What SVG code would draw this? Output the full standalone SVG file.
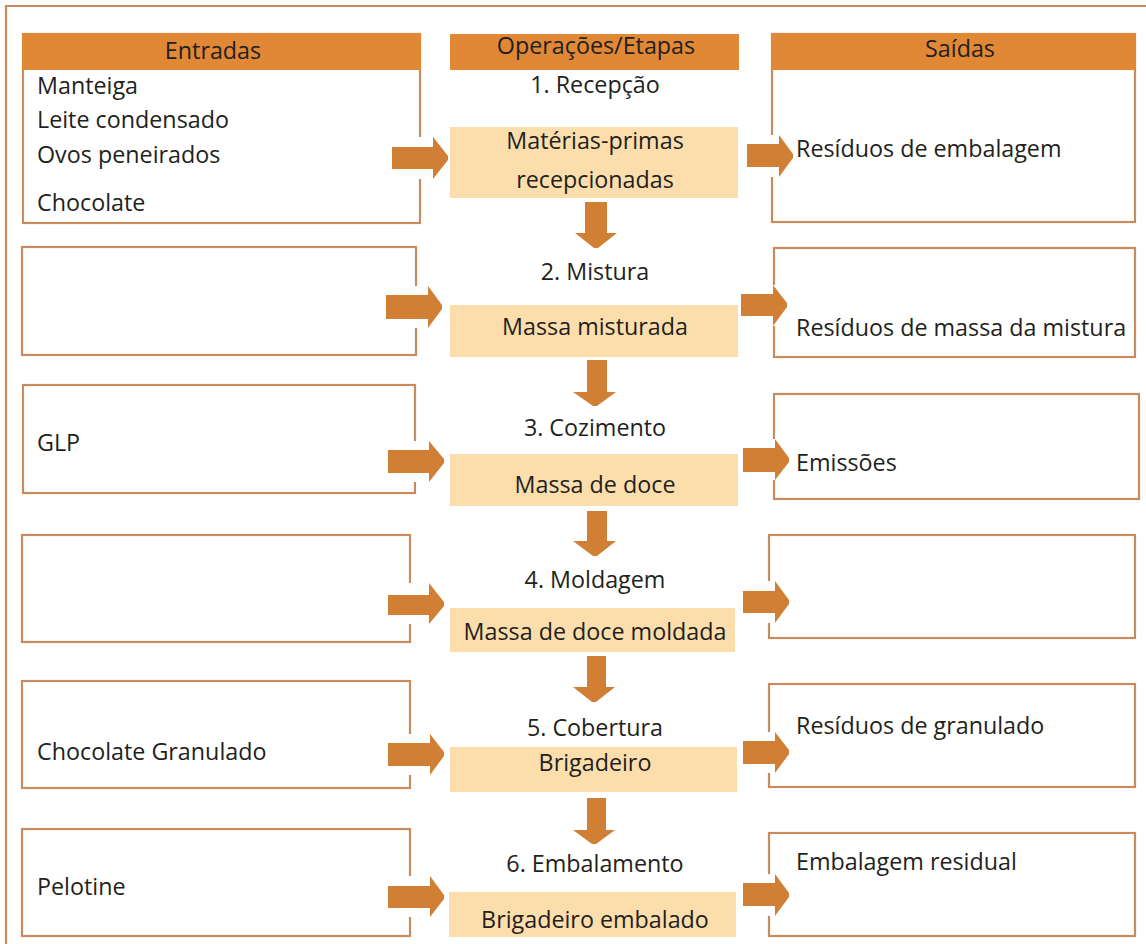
<svg xmlns="http://www.w3.org/2000/svg" width="1146" height="944" viewBox="0 0 1146 944">
<style>
.bx{fill:#fff;stroke:#C98A5E;stroke-width:2.2}
.hd{fill:#E08836}
.op{fill:#FCDEAC}
.ar{fill:#D17F35}
.gap{fill:#fff}
text{font-family:"Open Sans","Liberation Sans",sans-serif;font-size:23.3px;fill:#231F20}
.c{text-anchor:middle}
</style>
<rect width="1146" height="944" fill="#fff"/>
<path d="M6 944 V6 H1146" fill="none" stroke="#C98A5E" stroke-width="2.2"/>

<g id="entradas-1">
<rect class="bx" x="23" y="34" width="397" height="189"/>
<rect class="hd" x="22" y="33" width="399" height="37"/>
<text class="c" x="213" y="59">Entradas</text>
<text x="37" y="94">Manteiga</text>
<text x="37" y="128">Leite condensado</text>
<text x="37" y="163">Ovos peneirados</text>
<text x="37" y="211">Chocolate</text>
</g>
<g id="entradas-2"><rect class="bx" x="22" y="247" width="394" height="108"/></g>
<g id="entradas-3"><rect class="bx" x="23" y="385" width="392" height="108"/><text x="37" y="451">GLP</text></g>
<g id="entradas-4"><rect class="bx" x="22" y="535" width="388" height="107"/></g>
<g id="entradas-5"><rect class="bx" x="22" y="681" width="388" height="107"/><text x="37" y="760">Chocolate Granulado</text></g>
<g id="entradas-6"><rect class="bx" x="22" y="829" width="388" height="107"/><text x="37" y="895">Pelotine</text></g>

<g id="saidas-1">
<rect class="bx" x="772" y="34" width="363" height="188"/>
<rect class="hd" x="771" y="33" width="365" height="37"/>
<text class="c" x="960" y="57">Saídas</text>
<text x="796" y="157">Resíduos de embalagem</text>
</g>
<g id="saidas-2"><rect class="bx" x="774" y="248" width="361" height="109"/><text x="796" y="336">Resíduos de massa da mistura</text></g>
<g id="saidas-3"><rect class="bx" x="774" y="394" width="365" height="105"/><text x="796" y="471">Emissões</text></g>
<g id="saidas-4"><rect class="bx" x="769" y="535" width="366" height="103"/></g>
<g id="saidas-5"><rect class="bx" x="769" y="684" width="366" height="103"/><text x="796" y="734">Resíduos de granulado</text></g>
<g id="saidas-6"><rect class="bx" x="769" y="833" width="366" height="103"/><text x="796" y="870">Embalagem residual</text></g>

<g id="operacoes-header">
<rect class="hd" x="450" y="34" width="289" height="36"/>
<text class="c" x="596" y="54">Operações/Etapas</text>
</g>
<g id="etapa-1">
<text class="c" x="595" y="93">1. Recepção</text>
<rect class="op" x="450" y="127" width="288" height="71"/>
<text class="c" x="595" y="149">Matérias-primas</text>
<text class="c" x="595" y="188">recepcionadas</text>
</g>
<g id="etapa-2">
<text class="c" x="595" y="280">2. Mistura</text>
<rect class="op" x="450" y="305" width="288" height="52"/>
<text class="c" x="595" y="335">Massa misturada</text>
</g>
<g id="etapa-3">
<text class="c" x="595" y="436">3. Cozimento</text>
<rect class="op" x="450" y="454" width="288" height="52"/>
<text class="c" x="595" y="493">Massa de doce</text>
</g>
<g id="etapa-4">
<text class="c" x="595" y="588">4. Moldagem</text>
<rect class="op" x="450" y="608" width="285" height="44"/>
<text class="c" x="595" y="640">Massa de doce moldada</text>
</g>
<g id="etapa-5">
<text class="c" x="595" y="736">5. Cobertura</text>
<rect class="op" x="450" y="747" width="287" height="45"/>
<text class="c" x="595" y="771">Brigadeiro</text>
</g>
<g id="etapa-6">
<text class="c" x="595" y="872">6. Embalamento</text>
<rect class="op" x="449" y="892" width="287" height="45"/>
<text class="c" x="595" y="928">Brigadeiro embalado</text>
</g>

<g id="connectors">
<rect class="gap" x="414" y="137" width="12" height="42"/>
<rect class="gap" x="410" y="286" width="12" height="42"/>
<rect class="gap" x="409" y="441" width="12" height="41"/>
<rect class="gap" x="404" y="583" width="12" height="41"/>
<rect class="gap" x="404" y="734" width="12" height="41"/>
<rect class="gap" x="404" y="876" width="12" height="41"/>
<rect class="gap" x="766" y="135" width="12" height="42"/>
<rect class="gap" x="768" y="285" width="12" height="41"/>
<rect class="gap" x="768" y="439" width="12" height="41"/>
<rect class="gap" x="763" y="581" width="12" height="42"/>
<rect class="gap" x="763" y="732" width="12" height="41"/>
<rect class="gap" x="763" y="874" width="12" height="42"/>
<polygon class="ar" points="392,147 433,147 433,137 448,156 448,160 433,179 433,169 392,169"/>
<polygon class="ar" points="386,295 428,295 428,286 442,305 442,309 428,328 428,319 386,319"/>
<polygon class="ar" points="388,450 429,450 429,441 444,459 444,463 429,482 429,473 388,473"/>
<polygon class="ar" points="388,595 429,595 429,583 444,602 444,606 429,624 429,615 388,615"/>
<polygon class="ar" points="388,743 430,743 430,734 444,752 444,756 430,775 430,766 388,766"/>
<polygon class="ar" points="388,886 430,886 430,876 444,895 444,899 430,917 430,908 388,908"/>
<polygon class="ar" points="747,144 779,144 779,135 793,154 793,158 779,177 779,167 747,167"/>
<polygon class="ar" points="741,294 773,294 773,285 787,303 787,307 773,326 773,316 741,316"/>
<polygon class="ar" points="743,448 775,448 775,439 789,458 789,462 775,480 775,472 743,472"/>
<polygon class="ar" points="743,591 775,591 775,581 789,600 789,604 775,623 775,613 743,613"/>
<polygon class="ar" points="743,741 775,741 775,732 789,750 789,754 775,773 775,764 743,764"/>
<polygon class="ar" points="743,883 775,883 775,874 789,893 789,897 775,916 775,906 743,906"/>
<polygon class="ar" points="585,202 607,202 607,233 617,233 598,248 594,248 575,233 585,233"/>
<polygon class="ar" points="587,360 607,360 607,392 616,392 597,406 593,406 573,392 587,392"/>
<polygon class="ar" points="587,511 607,511 607,541 616,541 597,556 593,556 573,541 587,541"/>
<polygon class="ar" points="587,656 606,656 606,687 615,687 596,702 592,702 573,687 587,687"/>
<polygon class="ar" points="587,798 606,798 606,830 615,830 596,844 592,844 573,830 587,830"/>
</g>
</svg>
